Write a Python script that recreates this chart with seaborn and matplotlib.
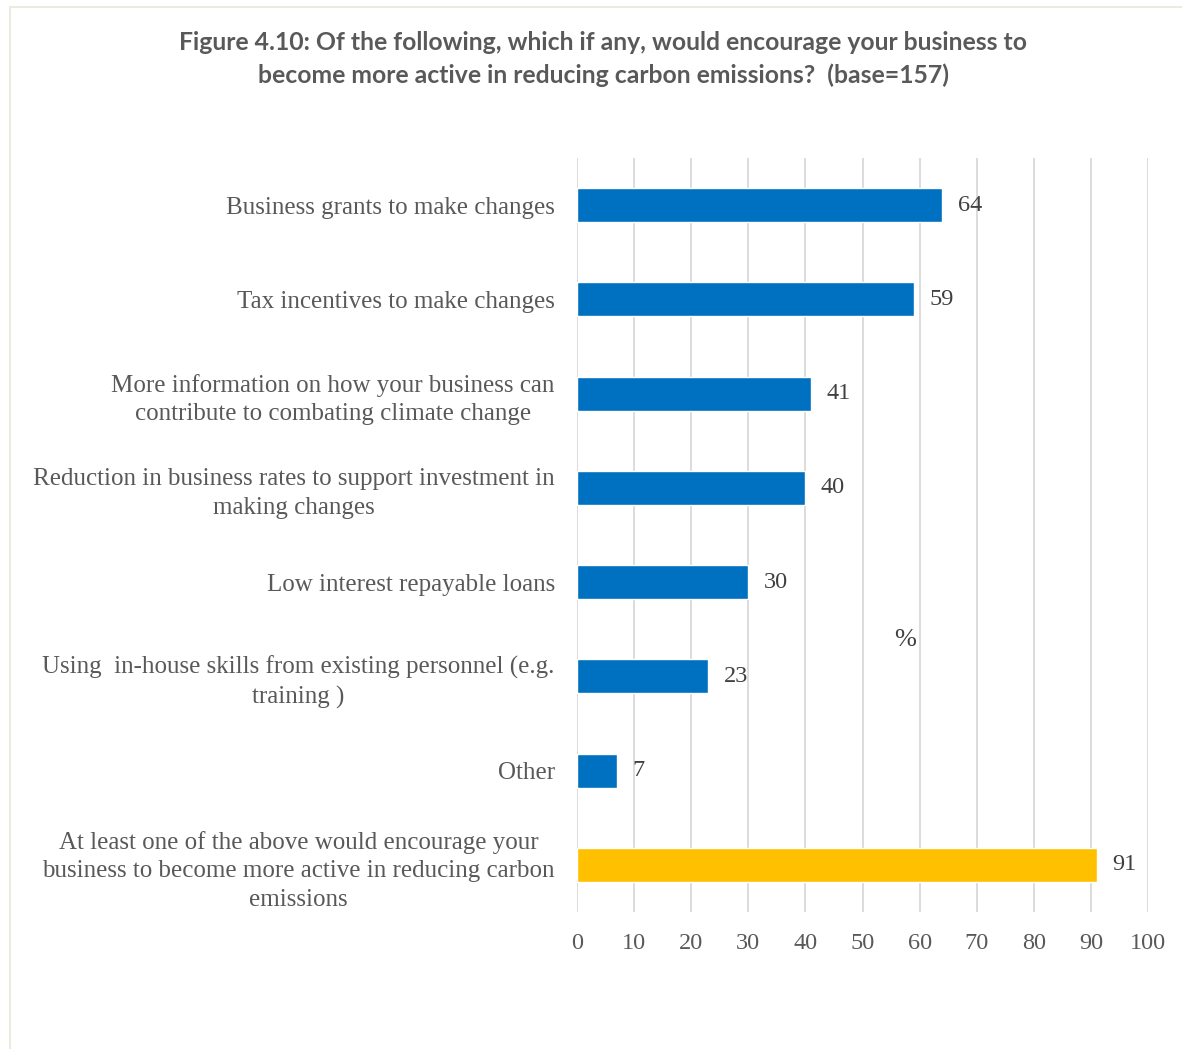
import matplotlib
matplotlib.use("Agg")
import matplotlib.pyplot as plt
import seaborn as sns
import pandas as pd
from matplotlib.patches import Rectangle

categories = [
    "Business grants to make changes",
    "Tax incentives to make changes",
    "More information on how your business can\ncontribute to combating climate change",
    "Reduction in business rates to support investment in\nmaking changes",
    "Low interest repayable loans",
    "Using  in-house skills from existing personnel (e.g.\ntraining )",
    "Other",
    "At least one of the above would encourage your\nbusiness to become more active in reducing carbon\nemissions",
]
values = [64, 59, 41, 40, 30, 23, 7, 91]
bar_colors = ["#0070C0"] * 7 + ["#FFC000"]
x_ticks = [0, 10, 20, 30, 40, 50, 60, 70, 80, 90, 100]
title = ("Figure 4.10: Of the following, which if any, would encourage your business to\n"
         "become more active in reducing carbon emissions?  (base=157)")

sns.set_theme(style="white")
plt.rcParams['font.family'] = ['Liberation Serif', 'DejaVu Serif']

df = pd.DataFrame({"cat": categories, "val": values})

fig = plt.figure(figsize=(11.82, 10.49), dpi=100)
ax = fig.add_axes([577/1182, 137/1049, (1148-577)/1182, (912-158)/1049])

sns.barplot(data=df, x="val", y="cat", hue="cat", palette=bar_colors, legend=False,
            width=0.36, ax=ax, saturation=1)

ax.set_xlim(0, 100)
ax.set_ylim(7.5, -0.5)
ax.set_xticks(x_ticks)
ax.xaxis.grid(True, color="#D9D9D9", linewidth=1.3)
ax.yaxis.grid(False)
ax.set_axisbelow(True)
for s in ax.spines.values():
    s.set_visible(False)
ax.set_xlabel("")
ax.set_ylabel("")
ax.tick_params(axis="x", length=0, pad=15, labelsize=17.5, labelcolor="#595959")
ax.tick_params(axis="y", length=0, pad=16, labelsize=18, labelcolor="#595959")
for lab in ax.get_yticklabels():
    lab.set_multialignment("center")
    lab.set_linespacing(1.38)

for i, v in enumerate(values):
    ax.text(v + 2.7, i, str(v), va="center", ha="left", fontsize=17.5, color="#404040")

fig.text(905/1182, 1 - 640/1049, "%", fontsize=19, color="#404040", ha="center", va="center")
fig.text(603/1182, 1 - 59/1049, title, ha="center", va="center", fontsize=17.8,
         fontweight="bold", color="#595959", family=["Lato"], linespacing=1.45)

fig.add_artist(Rectangle((10/1182, -0.1), 1.2, 1 - 7/1049 + 0.1, transform=fig.transFigure,
                         fill=False, edgecolor="#EDEBE0", linewidth=1.5))

fig.savefig("out.png", dpi=100)
